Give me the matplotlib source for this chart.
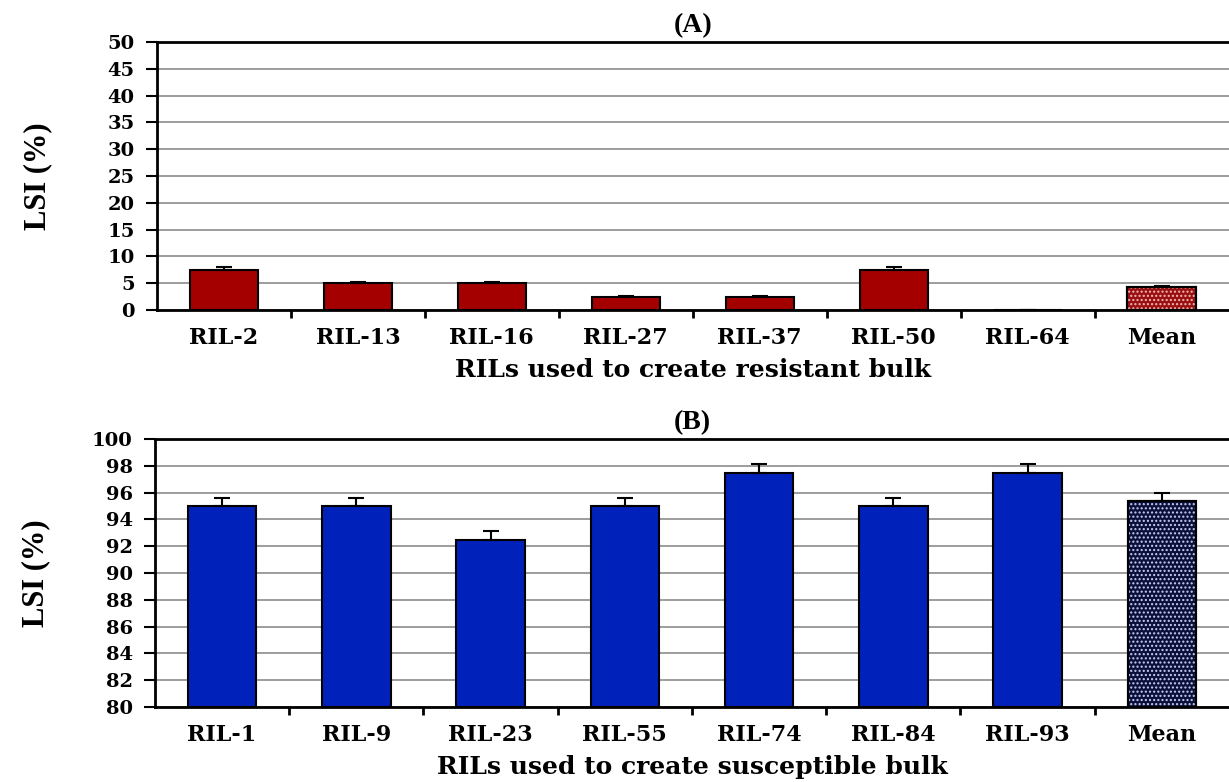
import numpy as np
import matplotlib
matplotlib.use("Agg")
import matplotlib.pyplot as plt

plt.rcParams['font.family'] = ['Liberation Serif', 'DejaVu Serif']
plt.rcParams['font.weight'] = 'bold'

WIDE = ['DejaVu Serif', 'Liberation Serif']

# resistant bulk lines
res_labels = ['RIL-2', 'RIL-13', 'RIL-16', 'RIL-27', 'RIL-37', 'RIL-50', 'RIL-64', 'Mean']
res_lsi = [7.5, 5.0, 5.0, 2.5, 2.5, 7.5, 0.0, 4.3]
res_err = [0.5, 0.2, 0.2, 0.15, 0.15, 0.5, 0.0, 0.2]

# susceptible bulk lines
sus_labels = ['RIL-1', 'RIL-9', 'RIL-23', 'RIL-55', 'RIL-74', 'RIL-84', 'RIL-93', 'Mean']
sus_lsi = [95.0, 95.0, 92.5, 95.0, 97.5, 95.0, 97.5, 95.36]
sus_err = [0.6, 0.6, 0.6, 0.6, 0.6, 0.6, 0.6, 0.6]


def panel(ax, labels, vals, errs, color, mean_color, dot_color, ylim, step, title, xlabel):
    x = np.arange(len(labels))
    w = 0.51
    base = ylim[0]
    heights = [v - base for v in vals]
    colors = [color] * (len(labels) - 1) + [mean_color]
    ax.bar(x, heights, w, bottom=base, color=colors, edgecolor='black',
           linewidth=1.5, zorder=3)
    ax.errorbar(x, vals, yerr=[np.zeros(len(errs)), errs], fmt='none',
                ecolor='black', elinewidth=1.5, capsize=6, capthick=1.5, zorder=4)
    # dotted fill on the mean bar
    ax.bar(x[-1], heights[-1], w, bottom=base, facecolor='none', edgecolor=dot_color,
           hatch='....', linewidth=0, zorder=3.5)
    ax.bar(x[-1], heights[-1], w, bottom=base, facecolor='none', edgecolor='black',
           linewidth=1.5, zorder=3.6)

    ax.set_xlim(-0.5, len(labels) - 0.5)
    ax.set_ylim(*ylim)
    ax.set_yticks(np.arange(ylim[0], ylim[1] + step / 2, step))
    ax.set_xticks(x)
    ax.set_xticklabels(labels, fontsize=16, fontweight='bold', family=WIDE)
    ax.set_xticks(np.arange(0.5, len(labels) - 1, 1), minor=True)
    ax.tick_params(axis='x', which='major', length=0, pad=12)
    ax.tick_params(axis='x', which='minor', length=6, width=2, direction='out')
    ax.tick_params(axis='y', length=8, width=1.5, pad=8)
    for lab in ax.get_yticklabels():
        lab.set_fontweight('bold')
        lab.set_family(WIDE)
        lab.set_fontsize(14)
    ax.yaxis.grid(True, color='#8c8c8c', linewidth=1.2, zorder=0)
    ax.set_axisbelow(True)
    for s in ['left', 'bottom', 'top']:
        ax.spines[s].set_linewidth(2)
    ax.spines['right'].set_visible(False)
    ax.set_ylabel('LSI (%)', fontsize=22, fontweight='bold')
    ax.yaxis.set_label_coords(-0.098, 0.5)
    ax.set_xlabel(xlabel, fontsize=18, fontweight='bold', family=WIDE, labelpad=7)
    ax.set_title(title, fontsize=20, fontweight='bold', pad=7)


fig = plt.figure(figsize=(12.29, 7.82), dpi=100)
ax1 = fig.add_axes([0.1277, 0.6036, 0.872, 0.3427])
ax2 = fig.add_axes([0.1261, 0.0959, 0.8739, 0.3427])

panel(ax1, res_labels, res_lsi, res_err, '#a50000', '#9a1010', '#f2b8b8',
      (0, 50), 5, '(A)', 'RILs used to create resistant bulk')
panel(ax2, sus_labels, sus_lsi, sus_err, '#0022bb', '#0a0f3c', '#c8d0f0',
      (80, 100), 2, '(B)', 'RILs used to create susceptible bulk')

fig.savefig('out.png', dpi=100)
